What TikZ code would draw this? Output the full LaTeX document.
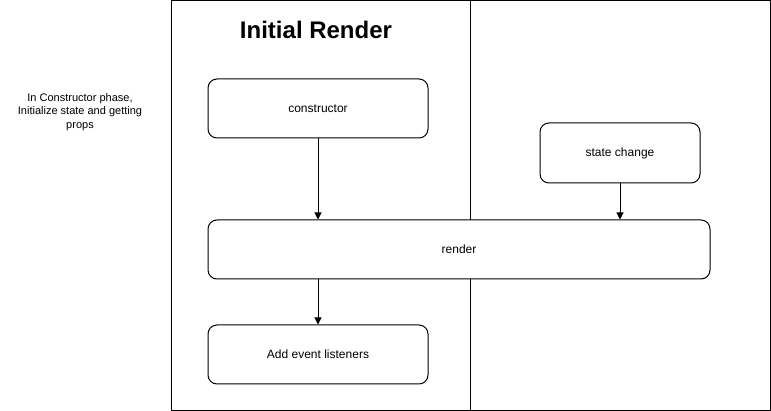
\documentclass[tikz,border=0pt]{standalone}
\usepackage{fontspec}
\setmainfont{Liberation Sans}
\usetikzlibrary{arrows.meta}
\begin{document}
\begin{tikzpicture}[x=1pt,y=-1pt,
  box/.style={draw, line width=1pt, rounded corners=9pt, font=\fontsize{12}{14}\selectfont, inner sep=0pt},
  arr/.style={draw, line width=1pt, -{Triangle[length=7pt,width=7pt]}},
  frame/.style={draw, line width=1pt}]
\useasboundingbox (0,0) rectangle (771,411);
\draw[frame] (171,0.5) rectangle (770,410);
\draw[frame] (470,0.5) -- (470,410);
\node[font=\fontsize{24}{28}\bfseries\selectfont] (title) at (316,30) {Initial Render};
\node[align=center, font=\fontsize{11}{13.5}\selectfont] (note) at (80,112) {In Constructor phase,\\Initialize state and getting\\props};
\node[box, minimum width=220pt, minimum height=59pt] (ctor) at (318,108.5) {constructor};
\node[box, minimum width=160pt, minimum height=60pt] (sc) at (620,153) {state change};
\node[box, fill=white, minimum width=502pt, minimum height=59pt] (render) at (459,249.5) {render};
\node[box, minimum width=220pt, minimum height=59pt] (add) at (318,354.5) {Add event listeners};
\draw[arr] (ctor.south) -- (render.north -| ctor.south);
\draw[arr] (sc.south) -- (render.north -| sc.south);
\draw[arr] (render.south -| add.north) -- (add.north);
\end{tikzpicture}
\end{document}
